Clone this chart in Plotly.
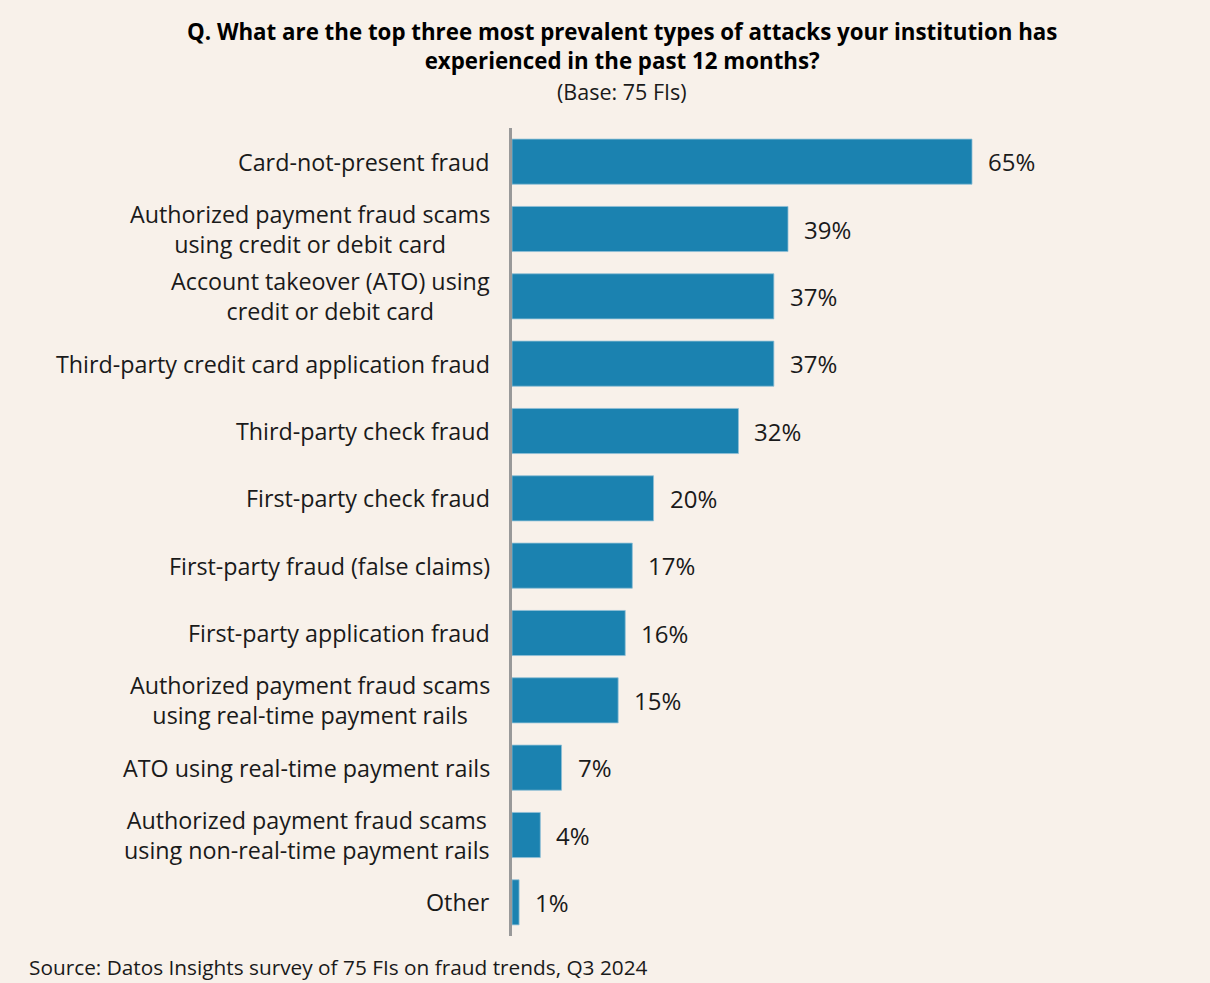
import plotly.graph_objects as go

# Survey results: share of FIs naming each attack type among their top three
categories = [
    "Card-not-present fraud",
    "Authorized payment fraud scams<br>using credit or debit card",
    "Account takeover (ATO) using<br>credit or debit card",
    "Third-party credit card application fraud",
    "Third-party check fraud",
    "First-party check fraud",
    "First-party fraud (false claims)",
    "First-party application fraud",
    "Authorized payment fraud scams<br>using real-time payment rails",
    "ATO using real-time payment rails",
    "Authorized payment fraud scams<br>using non-real-time payment rails",
    "Other",
]
values = [65, 39, 37, 37, 32, 20, 17, 16, 15, 7, 4, 1]
value_labels = [f"{v}%" for v in values]

title_line = "Q. What are the top three most prevalent types of attacks your institution has<br>experienced in the past 12 months?"
subtitle = "(Base: 75 FIs)"
source = "Source: Datos Insights survey of 75 FIs on fraud trends, Q3 2024"

W, H = 1210, 983
M_L, M_R, M_T, M_B = 512, 20, 128, 47
BG = "#F8F1EA"
BAR = "#1B82B0"
FONT = "'Open Sans', Lato, sans-serif"

plot_h = H - M_T - M_B
plot_w = W - M_L - M_R


def py(pixel_y):
    """Page pixel row -> paper y."""
    return (H - M_B - pixel_y) / plot_h


def px(pixel_x):
    """Page pixel column -> paper x."""
    return (pixel_x - M_L) / plot_w


fig = go.Figure()
fig.add_trace(go.Bar(
    x=values,
    y=categories,
    orientation="h",
    width=0.67,
    marker=dict(color=BAR, line=dict(color="#8FBFD6", width=0.8)),
    hoverinfo="skip",
))

annotations = []
# category labels: centred block, right-aligned against the axis
for cat in categories:
    annotations.append(dict(
        x=0, y=cat, xref="paper", yref="y",
        text=cat, showarrow=False, xanchor="right", yanchor="middle",
        align="center", xshift=-20,
        font=dict(family=FONT, size=23.3, color="#1a1a1a"),
    ))
# value labels just past each bar end
for cat, v, lab in zip(categories, values, value_labels):
    annotations.append(dict(
        x=v, y=cat, xref="x", yref="y",
        text=lab, showarrow=False, xanchor="left", yanchor="middle",
        xshift=14,
        font=dict(family=FONT, size=24, color="#1a1a1a"),
    ))
# heading, sub-heading and source line
annotations.append(dict(
    x=px(622), y=py(46), xref="paper", yref="paper",
    xanchor="center", yanchor="middle", align="center", showarrow=False,
    text=f"<b>{title_line}</b>",
    font=dict(family=FONT, size=22.3, color="#000000"),
))
annotations.append(dict(
    x=px(622), y=py(92), xref="paper", yref="paper",
    xanchor="center", yanchor="middle", showarrow=False,
    text=subtitle,
    font=dict(family=FONT, size=21.5, color="#1a1a1a"),
))
annotations.append(dict(
    x=px(27), y=py(967), xref="paper", yref="paper",
    xanchor="left", yanchor="middle", showarrow=False,
    text=source,
    font=dict(family=FONT, size=20.8, color="#1a1a1a"),
))

x_max = plot_w / (460 / 65)

fig.update_layout(
    width=W, height=H,
    margin=dict(l=M_L, r=M_R, t=M_T, b=M_B),
    paper_bgcolor=BG, plot_bgcolor=BG,
    showlegend=False,
    xaxis=dict(range=[0, x_max], visible=False, fixedrange=True),
    yaxis=dict(
        autorange="reversed",
        showticklabels=False, ticks="",
        showgrid=False, zeroline=False,
        showline=True, linecolor="#999999", linewidth=3,
        fixedrange=True,
    ),
    annotations=annotations,
)

fig.write_html("out.html")
